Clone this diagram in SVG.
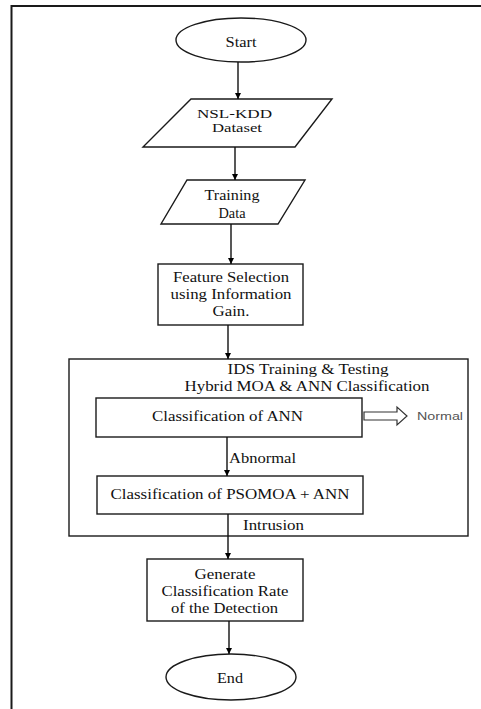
<svg xmlns="http://www.w3.org/2000/svg" width="481" height="709" viewBox="0 0 481 709">
<defs>
<marker id="ah" viewBox="0 0 10 10" refX="10" refY="5" markerWidth="6" markerHeight="6" markerUnits="userSpaceOnUse" orient="auto">
<path d="M0,0 L10,5 L0,10 z" fill="#000"/>
</marker>
</defs>
<style>
.s{fill:#fff;stroke:#1a1a1a;stroke-width:1.4}
.t{font-family:"Liberation Serif","Times New Roman",serif;font-size:14.5px;fill:#111;text-anchor:middle}
.c{stroke:#111;stroke-width:1.4;fill:none;marker-end:url(#ah)}
.l{font-family:"Liberation Serif","Times New Roman",serif;font-size:14.5px;fill:#111}
</style>
<rect width="481" height="709" fill="#fff"/>
<g id="frame">
<path d="M11.5,709 V6 H481" fill="none" stroke="#1a1a1a" stroke-width="2"/>
</g>
<g id="start">
<ellipse class="s" cx="241" cy="40" rx="65" ry="22"/>
<text class="t" x="241" y="46.5" textLength="31" lengthAdjust="spacingAndGlyphs">Start</text>
</g>
<g id="nsl">
<polygon class="s" points="191,99 332,99 295,147 143,147"/>
<text class="t" x="234.5" y="117.5" style="font-size:13px" textLength="75" lengthAdjust="spacingAndGlyphs">NSL-KDD</text>
<text class="t" x="237" y="132" style="font-size:13px" textLength="50" lengthAdjust="spacingAndGlyphs">Dataset</text>
</g>
<g id="training">
<polygon class="s" points="187,180 305,180 278,224 161,224"/>
<text class="t" x="232" y="200" textLength="55" lengthAdjust="spacingAndGlyphs">Training</text>
<text class="t" x="232" y="218" textLength="27" lengthAdjust="spacingAndGlyphs">Data</text>
</g>
<g id="feature">
<rect class="s" x="158" y="264" width="145" height="61"/>
<text class="t" x="231" y="282" textLength="116" lengthAdjust="spacingAndGlyphs">Feature Selection</text>
<text class="t" x="231" y="299" textLength="121" lengthAdjust="spacingAndGlyphs">using Information</text>
<text class="t" x="231" y="316" textLength="37" lengthAdjust="spacingAndGlyphs">Gain.</text>
</g>
<g id="ids">
<rect class="s" x="69" y="359" width="399" height="177"/>
<text class="t" x="308" y="374" textLength="161" lengthAdjust="spacingAndGlyphs">IDS Training &amp; Testing</text>
<text class="t" x="307" y="391" textLength="245" lengthAdjust="spacingAndGlyphs">Hybrid MOA &amp; ANN Classification</text>
</g>
<g id="ann">
<rect class="s" x="96" y="398" width="266" height="39"/>
<text class="t" x="227.5" y="421" textLength="151" lengthAdjust="spacingAndGlyphs">Classification of ANN</text>
</g>
<g id="psomoa">
<rect class="s" x="97" y="476" width="266" height="38"/>
<text class="t" x="230" y="498.5" textLength="239" lengthAdjust="spacingAndGlyphs">Classification of PSOMOA + ANN</text>
</g>
<g id="generate">
<rect class="s" x="147" y="559" width="156" height="62"/>
<text class="t" x="225" y="579" textLength="61" lengthAdjust="spacingAndGlyphs">Generate</text>
<text class="t" x="225" y="596" textLength="127" lengthAdjust="spacingAndGlyphs">Classification Rate</text>
<text class="t" x="224.5" y="613" textLength="107" lengthAdjust="spacingAndGlyphs">of the Detection</text>
</g>
<g id="end">
<ellipse class="s" cx="231" cy="677" rx="65" ry="23"/>
<text class="t" x="230" y="682.5" textLength="26" lengthAdjust="spacingAndGlyphs">End</text>
</g>
<g id="connectors">
<line class="c" x1="238" y1="62" x2="238" y2="99"/>
<line class="c" x1="235" y1="147" x2="235" y2="180"/>
<line class="c" x1="231" y1="224" x2="231" y2="264"/>
<line class="c" x1="228" y1="325" x2="228" y2="359"/>
<line class="c" x1="227" y1="437" x2="227" y2="476"/>
<line class="c" x1="228" y1="514" x2="228" y2="559"/>
<line class="c" x1="229" y1="621" x2="229" y2="654"/>
<path d="M364,412 H397 V407 L407,416 L397,425 V420 H364 Z" fill="#fff" stroke="#333" stroke-width="1.2"/>
<text class="l" x="229" y="462.5" textLength="67" lengthAdjust="spacingAndGlyphs">Abnormal</text>
<text class="l" x="243" y="530" textLength="61" lengthAdjust="spacingAndGlyphs">Intrusion</text>
<text x="417" y="419.5" font-family="'Liberation Sans',Arial,sans-serif" font-size="10.5" textLength="46" lengthAdjust="spacingAndGlyphs" fill="#555">Normal</text>
</g>
</svg>
